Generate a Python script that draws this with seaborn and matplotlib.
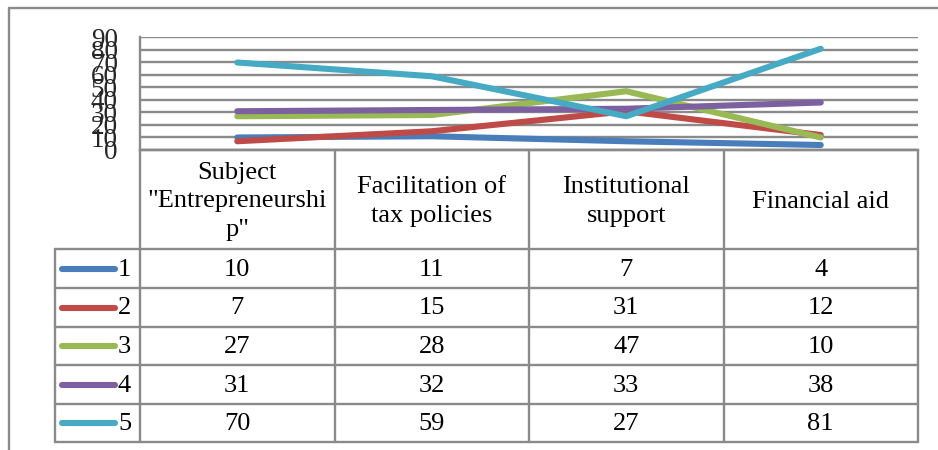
import matplotlib
matplotlib.use("Agg")
import matplotlib.pyplot as plt
import seaborn as sns
import pandas as pd
from matplotlib.lines import Line2D

# Data
categories = ['Subject\n"Entrepreneurshi\np"', 'Facilitation of\ntax policies',
              'Institutional\nsupport', 'Financial aid']
series_names = ["1", "2", "3", "4", "5"]
s1 = [10, 11, 7, 4]
s2 = [7, 15, 31, 12]
s3 = [27, 28, 47, 10]
s4 = [31, 32, 33, 38]
s5 = [70, 59, 27, 81]
y_ticks = [0, 10, 20, 30, 40, 50, 60, 70, 80, 90]

series_values = [s1, s2, s3, s4, s5]
colors = ["#4A7EBB", "#BE4B48", "#98B954", "#7D60A0", "#46AAC5"]

rows = []
for name, vals in zip(series_names, series_values):
    for i, v in enumerate(vals):
        rows.append({"pos": i, "value": v, "series": name})
df = pd.DataFrame(rows)

sns.set_theme(style="white")
plt.rcParams["font.family"] = ["Liberation Serif", "DejaVu Serif"]

W, H = 938, 450
fig = plt.figure(figsize=(W / 100, H / 100), dpi=100)
fig.patch.set_facecolor("white")

grid_col = "#8a8a8a"
plot_left, plot_right = 140, 918
plot_top, plot_bottom = 37.5, 150

ax = fig.add_axes([plot_left / W, 1 - plot_bottom / H,
                   (plot_right - plot_left) / W, (plot_bottom - plot_top) / H])
sns.lineplot(data=df, x="pos", y="value", hue="series", palette=dict(zip(series_names, colors)),
             linewidth=4.4, legend=False, ax=ax, sort=False,
             solid_capstyle="round", solid_joinstyle="round", zorder=3)
ax.set_xlim(-0.5, len(categories) - 0.5)
ax.set_ylim(0, 90)
ax.set_yticks(y_ticks)
ax.set_yticklabels([str(t) for t in y_ticks], fontsize=19.5)
ax.set_xticks([])
ax.set_xlabel("")
ax.set_ylabel("")
ax.yaxis.grid(True, color=grid_col, linewidth=1.7, zorder=1)
ax.set_axisbelow(True)
ax.tick_params(axis="y", length=0, pad=16)
for side in ["top", "right"]:
    ax.spines[side].set_visible(False)
for side in ["left", "bottom"]:
    ax.spines[side].set_color(grid_col)
    ax.spines[side].set_linewidth(1.7)
ax.patch.set_alpha(0)
for ln in ax.get_lines():
    ln.set_clip_on(False)

# Data table beneath the plot, in pixel coordinates of the figure
tab = fig.add_axes([0, 0, 1, 1])
tab.set_xlim(0, W)
tab.set_ylim(H, 0)
tab.axis("off")
tab.patch.set_alpha(0)

def hline(y, x0, x1, lw=1.7, c=grid_col):
    tab.add_line(Line2D([x0, x1], [y, y], color=c, lw=lw))

def vline(x, y0, y1, lw=1.7, c=grid_col):
    tab.add_line(Line2D([x, x], [y0, y1], color=c, lw=lw))

# outer chart frame
hline(8, 9, W)
vline(9, 8, H)

ncat = len(categories)
col_w = (plot_right - plot_left) / ncat
col_edges = [plot_left + i * col_w for i in range(ncat + 1)]
header_top, header_bottom = plot_bottom, 249
row_edges = [249, 288, 327, 365, 404, 442]
legend_left = 55

hline(header_top, plot_left, plot_right)
for y in row_edges:
    hline(y, legend_left, plot_right)
for x in col_edges:
    vline(x, header_top, row_edges[-1])
vline(legend_left, row_edges[0], row_edges[-1])

for i, cat in enumerate(categories):
    cx = (col_edges[i] + col_edges[i + 1]) / 2
    tab.text(cx, (header_top + header_bottom) / 2 + 2, cat, ha="center", va="center",
             fontsize=19, linespacing=1.38, color="black")

for r, (name, vals, c) in enumerate(zip(series_names, series_values, colors)):
    cy = (row_edges[r] + row_edges[r + 1]) / 2
    tab.add_line(Line2D([62, 115], [cy, cy], color=c, lw=4.4, solid_capstyle="round"))
    tab.text(118, cy + 1, name, ha="left", va="center", fontsize=19, color="black")
    for i, v in enumerate(vals):
        cx = (col_edges[i] + col_edges[i + 1]) / 2
        tab.text(cx, cy + 1, str(v), ha="center", va="center", fontsize=19, color="black")

fig.savefig("out.png", dpi=100, facecolor="white")
